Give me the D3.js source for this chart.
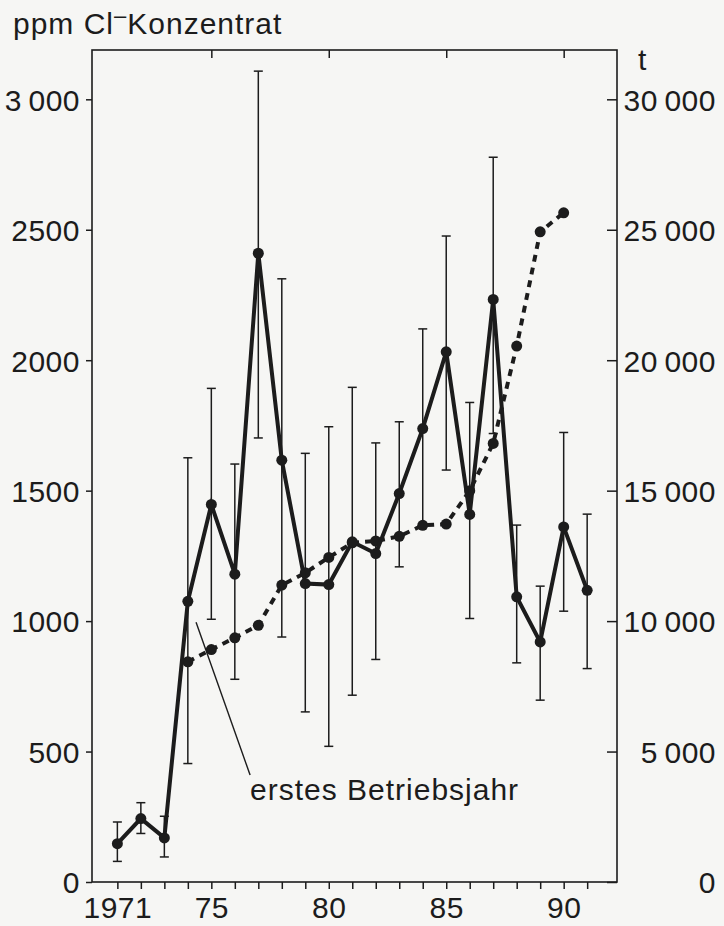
<!DOCTYPE html>
<html>
<head>
<meta charset="utf-8">
<script src="https://cdn.jsdelivr.net/npm/d3@7"></script>
<style>
  html, body { margin: 0; padding: 0; background: #f6f6f4; }
  svg { display: block; font-family: "Liberation Sans", Arial, sans-serif; }
</style>
</head>
<body>
<svg id="chart" width="724" height="926"></svg>
<script>
// Cl- Konzentrat (ppm), Mittelwert mit Schwankungsbereich
var years = [1971, 1972, 1973, 1974, 1975, 1976, 1977, 1978, 1979, 1980, 1981,
             1982, 1983, 1984, 1985, 1986, 1987, 1988, 1989, 1990, 1991];
var conc     = [147, 243, 169, 1076, 1447, 1180, 2410, 1617, 1144, 1140, 1304,
                1259, 1489, 1738, 2032, 1409, 2233, 1093, 920, 1361, 1118];
var concHigh = [230, 304, 252, 1626, 1892, 1602, 3108, 2312, 1643, 1745, 1896,
                1683, 1764, 2120, 2476, 1838, 2778, 1368, 1134, 1723, 1410];
var concLow  = [79, 186, 96, 454, 1007, 777, 1702, 939, 652, 520, 716,
                853, 1208, 1370, 1579, 1010, 1719, 840, 697, 1038, 818];

// Tonnen (rechte Achse)
var tonYears = [1974, 1975, 1976, 1977, 1978, 1979, 1980, 1981, 1982,
                1983, 1984, 1985, 1986, 1987, 1988, 1989, 1990];
var tons = [8440, 8910, 9360, 9840, 11380, 11850, 12440, 13000, 13070,
            13250, 13670, 13720, 15000, 16810, 20540, 24920, 25650];

var leftTicks = [0, 500, 1000, 1500, 2000, 2500, 3000];
var leftLabels = ["0", "500", "1000", "1500", "2000", "2500", "3\u2009000"];
var rightTicks = [0, 5000, 10000, 15000, 20000, 25000, 30000];
var rightLabels = ["0", "5\u2009000", "10\u2009000", "15\u2009000", "20\u2009000", "25\u2009000", "30\u2009000"];
var yearLabels = {1971: "1971", 1975: "75", 1980: "80", 1985: "85", 1990: "90"};
var topTicks = [1975, 1980, 1985, 1990];

var pLeft = 92, pRight = 617, pTop = 50, pBottom = 882;
var ink = "#1c1c1c";

var x = d3.scaleLinear().domain([1969.92, 1992.27]).range([pLeft, pRight]);
var y = d3.scaleLinear().domain([0, 3189]).range([pBottom, pTop]);
var y2 = d3.scaleLinear().domain([0, 31890]).range([pBottom, pTop]);

var svg = d3.select("#chart");

// frame
svg.append("rect")
  .attr("x", pLeft).attr("y", pTop)
  .attr("width", pRight - pLeft).attr("height", pBottom - pTop)
  .attr("fill", "none").attr("stroke", ink).attr("stroke-width", 1.6);

function styleAxis(g) {
  g.select(".domain").remove();
  g.selectAll(".tick line").attr("stroke", ink).attr("stroke-width", 1.5);
  g.selectAll(".tick text")
    .attr("fill", ink)
    .style("font-size", "30px")
    .style("letter-spacing", "0.5px");
}

// left axis
svg.append("g")
  .attr("transform", "translate(" + pLeft + ",0)")
  .call(d3.axisLeft(y).tickValues(leftTicks).tickSize(6).tickPadding(6)
        .tickFormat(function(d, i) { return leftLabels[i]; }))
  .call(styleAxis)
  .selectAll(".tick text").attr("dy", "0.36em");

// right axis (ticks inward, labels right-aligned)
var gr = svg.append("g")
  .attr("transform", "translate(" + pRight + ",0)")
  .call(d3.axisRight(y2).tickValues(rightTicks).tickSize(-10).tickPadding(0)
        .tickFormat(function(d, i) { return rightLabels[i]; }))
  .call(styleAxis);
gr.selectAll(".tick text").attr("x", 99).attr("text-anchor", "end").attr("dy", "0.36em");

// bottom axis
svg.append("g")
  .attr("transform", "translate(0," + pBottom + ")")
  .call(d3.axisBottom(x).tickValues(years).tickSize(7).tickPadding(8)
        .tickFormat(function(d) { return yearLabels[d] || ""; }))
  .call(styleAxis)
  .selectAll(".tick text").attr("dy", "0.71em");

// top ticks
svg.append("g")
  .attr("transform", "translate(0," + pTop + ")")
  .call(d3.axisTop(x).tickValues(topTicks).tickSize(-8).tickFormat(""))
  .call(styleAxis);

// axis titles
var title = svg.append("text")
  .attr("x", 13).attr("y", 34)
  .attr("fill", ink)
  .style("font-size", "30px").style("letter-spacing", "1px");
title.append("tspan").text("ppm Cl");
title.append("tspan").attr("dy", -11).style("font-size", "22px").text("\u2013");
title.append("tspan").attr("dy", 11).text("Konzentrat");

svg.append("text")
  .attr("x", 638).attr("y", 70)
  .attr("fill", ink).style("font-size", "30px")
  .text("t");

// error bars
var bars = svg.append("g").attr("stroke", ink).attr("stroke-width", 1.5);
years.forEach(function(yr, i) {
  var cx = x(yr);
  bars.append("line")
    .attr("x1", cx).attr("x2", cx)
    .attr("y1", y(concLow[i])).attr("y2", y(concHigh[i]));
  [concLow[i], concHigh[i]].forEach(function(v) {
    bars.append("line")
      .attr("x1", cx - 4.5).attr("x2", cx + 4.5)
      .attr("y1", y(v)).attr("y2", y(v));
  });
});

// tonnage (dashed)
var tonData = tonYears.map(function(yr, i) { return [yr, tons[i]]; });
svg.append("path")
  .datum(tonData)
  .attr("fill", "none")
  .attr("stroke", ink)
  .attr("stroke-width", 4)
  .attr("stroke-dasharray", "7,6")
  .attr("d", d3.line().x(function(d) { return x(d[0]); }).y(function(d) { return y2(d[1]); }));
svg.append("g").selectAll("circle")
  .data(tonData).enter().append("circle")
  .attr("cx", function(d) { return x(d[0]); })
  .attr("cy", function(d) { return y2(d[1]); })
  .attr("r", 5.5).attr("fill", ink);

// concentration (solid)
var concData = years.map(function(yr, i) { return [yr, conc[i]]; });
svg.append("path")
  .datum(concData)
  .attr("fill", "none")
  .attr("stroke", ink)
  .attr("stroke-width", 4)
  .attr("stroke-linejoin", "miter")
  .attr("d", d3.line().x(function(d) { return x(d[0]); }).y(function(d) { return y(d[1]); }));
svg.append("g").selectAll("circle")
  .data(concData).enter().append("circle")
  .attr("cx", function(d) { return x(d[0]); })
  .attr("cy", function(d) { return y(d[1]); })
  .attr("r", 5.5).attr("fill", ink);

// annotation
svg.append("line")
  .attr("x1", x(1974.35)).attr("y1", y(996))
  .attr("x2", x(1976.65)).attr("y2", y(410))
  .attr("stroke", ink).attr("stroke-width", 1.4);
svg.append("text")
  .attr("x", 250).attr("y", 800)
  .attr("fill", ink)
  .style("font-size", "30px").style("letter-spacing", "1px")
  .text("erstes Betriebsjahr");
</script>
</body>
</html>
